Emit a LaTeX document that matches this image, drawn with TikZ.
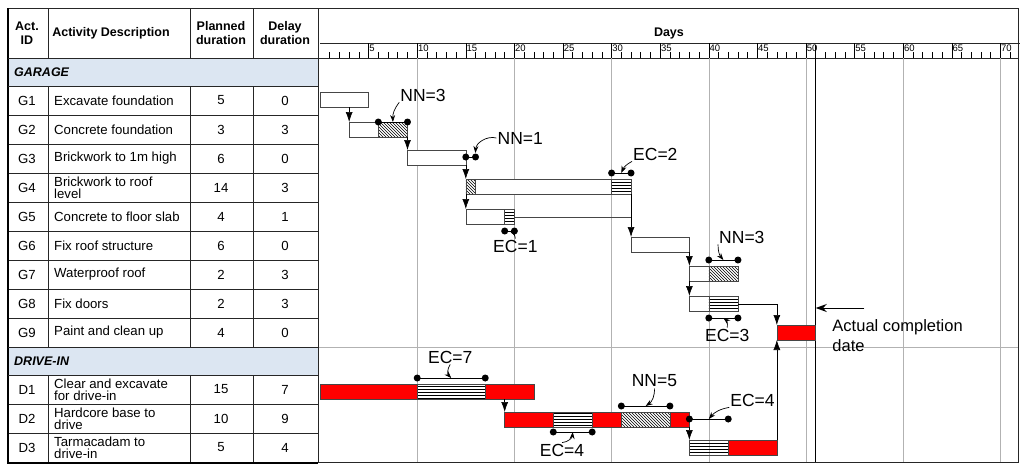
\documentclass[tikz,border=0pt]{standalone}
\usepackage{fontspec}
\setmainfont{Liberation Sans}
\usetikzlibrary{patterns,arrows.meta,positioning,calc}
\definecolor{bandblue}{RGB}{220,230,242}

\begin{document}
\begin{tikzpicture}[x=1pt, y=-1pt,
    rule/.style={draw=black!85, line width=0.6pt},
    grid/.style={draw=gray!60, line width=0.5pt},
    cell/.style={font=\fontsize{13.2}{12}\selectfont, inner sep=0pt},
    desc/.style={cell, align=left, anchor=west},
    head/.style={font=\bfseries\fontsize{12.5}{14}\selectfont, align=center, inner sep=0pt},
    group/.style={font=\bfseries\itshape\fontsize{12.5}{12}\selectfont, anchor=west, inner sep=0pt},
    bar/.style={draw=gray!55!black, line width=0.6pt, fill=white},
    late/.style={bar, fill=red},
    nn/.style={bar, pattern=north west lines},
    ec/.style={bar, pattern=horizontal lines},
    span/.style={line width=1pt},
    dot/.style={circle, fill=black, inner sep=0pt, minimum size=7pt},
    tag/.style={font=\fontsize{17.5}{17.5}\selectfont, inner sep=1pt},
    lnk/.style={-{Latex[length=10pt,width=7pt]}, line width=0.6pt},
    pt/.style={-{Stealth[length=7pt,width=5pt]}, line width=0.7pt}
]
\useasboundingbox (0,0) rectangle (1024,471);

% Table bands
\fill[bandblue] (8,58) rectangle (318,86);
\fill[bandblue] (8,347) rectangle (318,375);
\node[group] (garage) at (14,72) {GARAGE};
\node[group] (drive) at (14,361) {DRIVE-IN};

% Header
\node[head] (hid) at (27,33) {Act.\\ID};
\node[head] (hdesc) at (111,33) {Activity Description};
\node[head] (hplan) at (221,33) {Planned\\duration};
\node[head] (hdelay) at (285,33) {Delay\\duration};

% Rows
\foreach \id/\desc/\pd/\dd [count=\i] in {G1/{Excavate foundation}/5/0, G2/{Concrete foundation}/3/3,
    G3/{Brickwork to 1m high}/6/0, G4/{Brickwork to roof\\level}/14/3, G5/{Concrete to floor slab}/4/1,
    G6/{Fix roof structure}/6/0, G7/{Waterproof roof}/2/3, G8/{Fix doors}/2/3, G9/{Paint and clean up}/4/0} {
  \node[cell] (id-\id) at (27,{86+29*\i-14.5}) {\id};
  \node[desc] (desc-\id) at (54,{86+29*\i-14.5}) {\desc};
  \node[cell] (pd-\id) at (221,{86+29*\i-14.5}) {\pd};
  \node[cell] (dd-\id) at (285,{86+29*\i-14.5}) {\dd};
  \draw[rule] (8,{86+29*\i}) -- (318,{86+29*\i});
}
\foreach \id/\desc/\pd/\dd [count=\i] in {D1/{Clear and excavate\\for drive-in}/15/7,
    D2/{Hardcore base to\\drive}/10/9, D3/{Tarmacadam to\\drive-in}/5/4} {
  \node[cell] (id-\id) at (27,{375+29*\i-14.5}) {\id};
  \node[desc] (desc-\id) at (54,{375+29*\i-14.5}) {\desc};
  \node[cell] (pd-\id) at (221,{375+29*\i-14.5}) {\pd};
  \node[cell] (dd-\id) at (285,{375+29*\i-14.5}) {\dd};
  \draw[rule] (8,{375+29*\i}) -- (318,{375+29*\i});
}

% Table lines
\draw[rule] (8,8) rectangle (1018,462);
\draw[line width=1.6pt] (8,8) -- (8,463) -- (318,463);
\draw[rule] (8,58) -- (1018,58);
\draw[rule] (8,86) -- (318,86);
\draw[rule] (8,347) -- (318,347);
\draw[rule] (8,375) -- (318,375);
\draw[grid] (318,347) -- (1018,347);
\foreach \cx in {48,190,253} {
  \draw[rule] (\cx,8) -- (\cx,58);
  \draw[rule] (\cx,86) -- (\cx,347);
  \draw[rule] (\cx,375) -- (\cx,462);
}
\draw[rule] (318,8) -- (318,462);

\begin{scope}[xshift=320pt, x=9.72pt]
% Time scale
\node[head] (days) at (35.9,33) {Days};
\draw[rule] (0,43) -- (72,43);
\foreach \d in {1,...,71} \draw[line width=0.6pt] (\d,52) -- (\d,58);
\foreach \d in {5,10,...,70} {
  \draw[line width=0.6pt] (\d,43) -- (\d,58);
  \node[font=\fontsize{9.5}{9.5}\selectfont, anchor=north west, inner sep=0.6pt] at (\d,44) {\d};
}
\foreach \d in {10,20,...,70} \draw[grid] (\d,58) -- (\d,462);
\draw[line width=0.8pt] (51,45) -- (51,462);

% Garage bars
\draw[bar] (0,92) rectangle (5,107);
\draw[bar] (3,122) rectangle (6,137);
\draw[nn] (6,122) rectangle (9,137);
\draw[bar] (9,150) rectangle (15,165);
\draw[nn] (15,179) rectangle (16,194);
\draw[bar] (16,179) rectangle (30,194);
\draw[ec] (30,179) rectangle (32,194);
\draw[bar] (15,209) rectangle (19,224);
\draw[ec] (19,209) rectangle (20,224);
\draw[bar] (32,237) rectangle (38,252);
\draw[bar] (38,266) rectangle (40,281);
\draw[nn] (40,266) rectangle (43,281);
\draw[bar] (38,296) rectangle (40,311);
\draw[ec] (40,296) rectangle (43,311);
\draw[late] (47,325) rectangle (51,340);

% Drive-in bars
\draw[late] (0,384) rectangle (10,399);
\draw[ec] (10,384) rectangle (17,399);
\draw[late] (17,384) rectangle (22,399);
\draw[late] (19,412) rectangle (24,427);
\draw[ec] (24,412) rectangle (28,427);
\draw[late] (28,412) rectangle (31,427);
\draw[nn] (31,412) rectangle (36,427);
\draw[late] (36,412) rectangle (38,427);
\draw[ec] (38,440) rectangle (42,455);
\draw[late] (42,440) rectangle (47,455);

% Links
\draw[lnk] (3,107) -- (3,122);
\draw[lnk] (9,137) -- (9,150);
\draw[lnk] (15,165) -- (15,179);
\draw[lnk] (15,194) -- (15,209);
\draw[bar] (20,217) -- (32,217);
\draw[lnk] (32,194) -- (32,237);
\draw[lnk] (38,252) -- (38,266);
\draw[lnk] (38,281) -- (38,296);
\draw[lnk] (43,304) -| (47,325);
\draw[lnk] (19,399) -- (19,412);
\draw[lnk] (38,427) -- (38,440);
\draw[lnk] (47,440) -- (47,340);

% Delay spans
\foreach \a/\b/\y/\n in {6/9/122/g2, 15/16/157/g4, 30/32/173/g4e, 19/20/231/g5, 40/43/260/g7,
    40/43/318/g8, 10/17/378/d1, 24/28/432/d2, 31/36/406/d2n, 38/42/419/d3} {
  \draw[span] (\a,\y) node[dot] (\n-a) {} -- (\b,\y) node[dot] (\n-b) {};
  \coordinate (\n-m) at ($(\n-a)!0.5!(\n-b)$);
}
\node[tag] (t-g2) at (10.6,95) {NN=3};
\node[tag] (t-g4) at (20.6,138) {NN=1};
\node[tag] (t-g4e) at (34.5,154) {EC=2};
\node[tag] (t-g5) at (20.1,246) {EC=1};
\node[tag] (t-g7) at (43.4,237) {NN=3};
\node[tag] (t-g8) at (41.9,335) {EC=3};
\node[tag] (t-d1) at (13.4,357) {EC=7};
\node[tag] (t-d2) at (24.9,450) {EC=4};
\node[tag] (t-d2n) at (34.4,381) {NN=5};
\node[tag] (t-d3) at (44.5,400) {EC=4};
\draw[pt] (t-g2.south west) to[bend right=20] (g2-m);
\draw[pt] (t-g4.west) to[bend right=50] (g4-b);
\draw[pt] (t-g4e.south west) to[bend right=20] (g4e-m);
\draw[pt] (t-g5.north) to[bend right=30] (g5-m);
\draw[pt] (t-g7.south west) to[bend right=20] (g7-m);
\draw[pt] (t-g8.north) to[bend right=30] (g8-m);
\draw[pt] (t-d1.south) to[bend right=40] (d1-m);
\draw[pt] (t-d2.north) to[bend right=40] (d2-m);
\draw[pt] (t-d2n.south) to[bend left=30] (d2n-m);
\draw[pt] (t-d3.south west) to[bend right=20] (d3-m);

% Completion
\coordinate (done) at (51,308);
\coordinate (doneTail) at (56,308);
\draw[-{Stealth[length=11pt,width=8pt]}, line width=1pt] (doneTail) -- (done);
\node[tag, anchor=north west, align=left, font=\fontsize{16.5}{20}\selectfont] (donetxt) at (52.6,318) {Actual completion\\date};
\end{scope}
\end{tikzpicture}
\end{document}
